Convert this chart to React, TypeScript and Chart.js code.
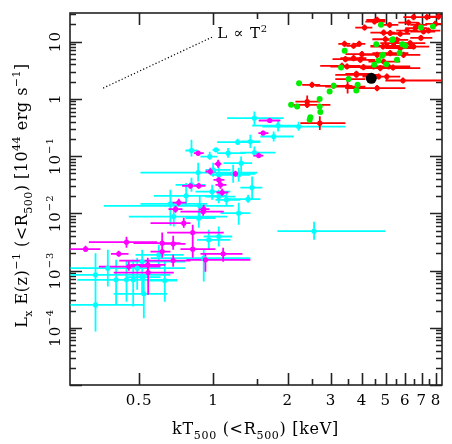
import React, { useEffect, useRef } from 'react';
import { Chart, registerables } from 'chart.js';

Chart.register(...registerables);

// ---------- axis ranges & ticks ----------
const X_MIN = 0.262;
const X_MAX = 8.45;
const Y_MIN = 1e-5;
const Y_MAX = 31.6;
const xMajorTicks = [0.5, 1, 2, 3, 4, 5, 6, 7, 8];
const xTickLabels = ['0.5', '1', '2', '3', '4', '5', '6', '7', '8'];
const xMinorTicks = [1.5, 2.5, 3.5, 4.5, 5.5, 6.5, 7.5];
const yDecadeExps = [-5, -4, -3, -2, -1, 0, 1];
const yLabelExps = [-4, -3, -2, -1, 0, 1];

// ---------- data: [T, Tlo, Thi, L, Llo, Lhi] ----------
const cyanPts = [
  [1.466, 1.136, 1.927, 0.46, 0.351, 0.6],
  [1.829, 1.435, 2.252, 0.341, 0.268, 0.43],
  [2.216, 1.579, 3.426, 0.328, 0.276, 0.396],
  [1.755, 1.55, 2.115, 0.2195, 0.1795, 0.268],
  [1.412, 1.286, 1.55, 0.1795, 0.139, 0.235],
  [1.254, 1.035, 1.55, 0.175, 0.157, 0.2],
  [0.8145, 0.77, 0.859, 0.125, 0.0981, 0.192],
  [1.025, 0.991, 1.057, 0.1285, 0.1186, 0.139],
  [1.147, 1.035, 1.348, 0.1125, 0.0931, 0.139],
  [0.966, 0.886, 1.035, 0.0981, 0.0859, 0.1186],
  [1.466, 1.286, 1.783, 0.1153, 0.0981, 0.1467],
  [1.295, 1.098, 1.435, 0.0752, 0.0503, 0.0981],
  [0.867, 0.506, 1.503, 0.0515, 0.0359, 0.0762],
  [1.051, 0.972, 1.412, 0.047, 0.0294, 0.0752],
  [1.266, 1.118, 1.386, 0.047, 0.0355, 0.0623],
  [0.997, 0.928, 1.172, 0.0574, 0.0434, 0.0762],
  [1.435, 1.286, 1.579, 0.0282, 0.01718, 0.0439],
  [1.382, 1.139, 1.55, 0.01767, 0.01524, 0.021],
  [0.988, 0.846, 1.172, 0.024, 0.01718, 0.0314],
  [0.775, 0.573, 1.136, 0.0202, 0.01312, 0.0337],
  [1.129, 1.019, 1.286, 0.01718, 0.0135, 0.0228],
  [0.669, 0.506, 0.943, 0.01463, 0.00604, 0.0257],
  [0.88, 0.359, 1.209, 0.0135, 0.00823, 0.01963],
  [1.266, 1.068, 1.412, 0.01006, 0.00629, 0.01524],
  [0.6905, 0.4537, 1.136, 0.00878, 0.00587, 0.01231],
  [0.872, 0.77, 1.019, 0.00823, 0.00557, 0.0115],
  [0.957, 0.859, 1.172, 0.00344, 0.0023, 0.00514],
  [1.051, 0.913, 1.191, 0.00393, 0.00262, 0.00587],
  [0.6003, 0.483, 0.758, 0.00188, 0.001257, 0.00281],
  [0.9134, 0.5557, 1.412, 0.001646, 0.000642, 0.0023],
  [2.559, 1.817, 4.977, 0.00488, 0.00344, 0.00709],
  [0.514, 0.44, 0.77, 0.001436, 0.001028, 0.0023],
  [0.373, 0.263, 0.77, 0.0011, 0.000525, 0.0023],
  [0.3325, 0.263, 0.669, 0.000841, 0.0000859, 0.002014],
  [0.4907, 0.386, 0.582, 0.0011, 0.00046, 0.001666],
  [0.403, 0.2804, 0.7124, 0.000687, 0.000251, 0.001537],
  [0.444, 0.391, 0.5557, 0.000687, 0.000284, 0.001418],
  [0.4727, 0.415, 0.639, 0.000687, 0.000235, 0.001537],
  [0.514, 0.44, 0.61, 0.000766, 0.000376, 0.001418],
  [0.635, 0.5386, 0.7124, 0.000668, 0.000284, 0.001418],
  [0.522, 0.394, 0.6494, 0.000392, 0.000147, 0.000841],
  [0.3325, 0.263, 0.522, 0.000251, 0.0000859, 0.000911],
  [1.202, 1.019, 1.48, 0.0489, 0.0341, 0.0703],
  [0.8145, 0.702, 0.928, 0.0314, 0.0237, 0.0417],
  [1.051, 0.928, 1.228, 0.01963, 0.015, 0.0257],
];

const magentaPts = [
  [1.691, 1.526, 1.868, 0.418, 0.396, 0.447],
  [1.59, 1.522, 1.671, 0.252, 0.235, 0.276],
  [0.867, 0.832, 0.9134, 0.1125, 0.101, 0.1235],
  [1.526, 1.452, 1.594, 0.1021, 0.0931, 0.1139],
  [1.045, 1.0094, 1.0775, 0.0731, 0.0623, 0.0859],
  [0.972, 0.928, 1.019, 0.0537, 0.047, 0.0623],
  [1.228, 1.172, 1.286, 0.0489, 0.0434, 0.0552],
  [1.051, 1.0, 1.108, 0.0384, 0.0327, 0.0451],
  [0.872, 0.7466, 0.928, 0.0302, 0.0268, 0.0341],
  [0.807, 0.77, 0.846, 0.0302, 0.0268, 0.0341],
  [1.068, 1.019, 1.129, 0.0314, 0.0268, 0.0369],
  [1.085, 1.0284, 1.15, 0.0231, 0.0202, 0.0268],
  [0.7235, 0.669, 0.777, 0.01541, 0.0135, 0.0179],
  [0.702, 0.657, 0.7489, 0.01182, 0.01019, 0.0135],
  [0.9134, 0.8695, 0.9634, 0.01182, 0.00979, 0.01406],
  [0.9085, 0.7349, 1.101, 0.01073, 0.00903, 0.01297],
  [0.758, 0.5557, 0.807, 0.00673, 0.00557, 0.00833],
  [0.824, 0.6494, 1.101, 0.00461, 0.00344, 0.00629],
  [0.444, 0.3125, 0.591, 0.00313, 0.00249, 0.00388],
  [0.6197, 0.474, 0.735, 0.00301, 0.00188, 0.00461],
  [0.6866, 0.61, 0.77, 0.00293, 0.0023, 0.00404],
  [0.303, 0.263, 0.348, 0.002365, 0.00212, 0.0027],
  [0.413, 0.384, 0.4524, 0.00196, 0.001735, 0.00221],
  [0.824, 0.735, 1.019, 0.002365, 0.001666, 0.00344],
  [1.095, 0.886, 1.311, 0.00196, 0.001418, 0.00249],
  [0.4537, 0.343, 0.61, 0.001174, 0.000988, 0.001418],
  [0.5417, 0.461, 0.639, 0.001257, 0.000949, 0.001666],
  [0.6866, 0.415, 0.807, 0.001494, 0.00116, 0.00188],
  [0.928, 0.777, 1.412, 0.001537, 0.000949, 0.00196],
  [0.5437, 0.394, 0.6905, 0.000922, 0.000376, 0.001537],
  [0.6197, 0.5557, 0.669, 0.002147, 0.001666, 0.0027],
];

const redPts = [
  [4.61, 4.17, 4.98, 24.0, 21.2, 27.1],
  [4.1, 3.76, 4.41, 17.6, 15.6, 19.9],
  [5.18, 4.66, 5.62, 19.6, 17.3, 22.1],
  [6.18, 5.62, 6.77, 21.5, 19.0, 24.3],
  [6.48, 5.89, 7.23, 26.8, 23.7, 30.3],
  [7.34, 6.77, 8.01, 26.8, 23.7, 30.3],
  [8.18, 7.5, 8.47, 27.4, 24.2, 31.0],
  [4.9, 4.33, 5.46, 14.4, 12.7, 16.3],
  [5.21, 4.75, 5.72, 14.1, 12.5, 15.9],
  [5.72, 5.21, 6.28, 13.7, 12.1, 15.5],
  [6.09, 5.51, 6.77, 15.6, 13.8, 17.6],
  [6.58, 6.0, 7.36, 17.2, 15.2, 19.4],
  [7.11, 6.28, 7.93, 15.0, 13.3, 17.0],
  [7.45, 6.9, 8.32, 15.6, 13.8, 17.6],
  [3.4, 3.21, 3.59, 9.14, 8.09, 10.3],
  [3.7, 3.46, 3.94, 8.44, 7.47, 9.54],
  [3.9, 3.69, 4.13, 9.14, 8.09, 10.3],
  [4.98, 4.41, 5.72, 11.0, 9.77, 12.5],
  [5.38, 4.75, 6.28, 9.4, 8.32, 10.6],
  [6.28, 5.46, 7.23, 9.4, 8.32, 10.6],
  [5.05, 4.33, 5.72, 8.44, 7.47, 9.54],
  [5.72, 4.98, 6.58, 7.69, 6.81, 8.69],
  [6.48, 5.72, 7.5, 8.2, 7.26, 9.27],
  [4.0, 3.43, 4.66, 6.04, 5.35, 6.83],
  [4.61, 4.02, 5.31, 5.87, 5.19, 6.63],
  [5.21, 4.41, 6.17, 6.29, 5.57, 7.11],
  [5.9, 5.21, 6.9, 5.87, 5.19, 6.63],
  [3.43, 3.04, 3.87, 4.94, 4.37, 5.58],
  [3.7, 3.27, 4.17, 5.14, 4.55, 5.81],
  [3.94, 3.43, 4.53, 4.8, 4.25, 5.42],
  [4.9, 4.25, 5.72, 4.48, 3.96, 5.06],
  [3.48, 2.98, 4.02, 3.67, 3.25, 4.15],
  [4.06, 3.43, 4.75, 3.58, 3.17, 4.05],
  [4.46, 3.76, 5.21, 3.67, 3.25, 4.15],
  [5.13, 4.33, 6.28, 3.67, 3.25, 4.15],
  [3.32, 2.71, 3.94, 3.77, 3.34, 4.26],
  [4.75, 3.94, 6.9, 3.44, 3.04, 3.89],
  [3.8, 3.12, 4.66, 2.63, 2.33, 2.97],
  [4.68, 4.02, 5.46, 2.45, 2.17, 2.77],
  [5.05, 4.53, 5.72, 2.45, 2.17, 2.77],
  [5.87, 4.98, 8.47, 2.09, 1.85, 2.36],
  [3.53, 3.12, 4.13, 2.21, 1.96, 2.5],
  [2.51, 2.29, 2.71, 1.76, 1.56, 1.99],
  [3.07, 2.59, 3.66, 1.69, 1.5, 1.91],
  [3.5, 2.84, 4.13, 1.64, 1.24, 2.17],
  [4.61, 3.43, 6.0, 1.54, 1.36, 1.74],
  [2.4, 2.05, 2.98, 0.785, 0.695, 0.887],
  [2.4, 2.15, 2.71, 0.897, 0.705, 1.14],
  [2.7, 2.25, 3.43, 0.376, 0.284, 0.498],
  [6.94, 6.28, 7.72, 11.6, 10.3, 13.1],
  [7.93, 7.23, 8.47, 20.4, 18.1, 23.1],
  [5.55, 4.98, 6.17, 10.7, 9.47, 12.1],
  [6.77, 6.28, 7.36, 19.6, 17.3, 22.1],
  [4.5, 4.13, 4.98, 22.4, 19.8, 25.3],
  [4.87, 4.33, 5.62, 8.2, 7.26, 9.27],
  [5.35, 4.75, 6.17, 3.52, 3.12, 3.98],
  [3.8, 3.43, 4.33, 2.73, 2.42, 3.08],
];

// green: [T, L]
const greenPts = [
  [4.781, 19.6], [6.944, 17.6], [7.766, 18.3], [5.298, 10.7], [4.576, 9.03],
  [5.832, 9.03], [5.998, 8.44], [3.404, 6.9], [5.687, 6.29], [4.826, 5.64],
  [4.675, 4.67], [5.55, 4.8], [5.023, 4.04], [4.491, 3.93], [3.291, 3.52],
  [3.533, 2.21], [3.843, 1.76], [3.796, 1.4], [3.073, 1.69], [2.959, 1.34],
  [2.225, 1.88], [2.696, 0.989], [2.696, 0.733], [2.713, 0.586], [2.472, 0.479],
  [2.456, 0.43], [2.065, 0.785], [2.184, 0.733], [5.347, 11.04], [4.87, 5.87],
];

const blackPt = [[4.367, 2.28]];

// L ∝ T^2 guide line
const guideT = [0.357, 0.988];
const guideL = [1.54, 11.97];
const guideLabelPos = [1.035, 11.4];

const FONT = '"DejaVu Serif", "Liberation Serif", serif';

type Part = [string, number];

function errorBarData(pts: number[][]) {
  const out: any[] = [];
  for (const p of pts) {
    out.push({ x: p[1], y: p[3] }, { x: p[2], y: p[3] }, { x: p[0], y: null });
    out.push({ x: p[0], y: p[4] }, { x: p[0], y: p[5] }, { x: p[0], y: null });
  }
  return out;
}

function drawRich(ctx: CanvasRenderingContext2D, parts: Part[], x: number, y: number, size: number, spacing: number, align = 'center') {
  (ctx as any).letterSpacing = spacing + 'px';
  let w = 0;
  for (const [t, k] of parts) {
    ctx.font = `${k ? Math.round(size * 0.66) : size}px ${FONT}`;
    w += ctx.measureText(t).width;
  }
  let cx = align === 'center' ? x - w / 2 : x;
  ctx.textAlign = 'left';
  ctx.textBaseline = 'alphabetic';
  for (const [t, k] of parts) {
    const s = k ? Math.round(size * 0.66) : size;
    ctx.font = `${s}px ${FONT}`;
    const dy = k === 1 ? -size * 0.42 : k === -1 ? size * 0.3 : 0;
    ctx.fillText(t, cx, y + dy);
    cx += ctx.measureText(t).width;
  }
  (ctx as any).letterSpacing = '0px';
}

const framePlugin = {
  id: 'pgframe',
  beforeDatasetsDraw(chart: any) {
    const { ctx, chartArea: a, scales } = chart;
    const xs = scales.x, ys = scales.y;
    ctx.save();
    ctx.strokeStyle = '#222';
    ctx.lineWidth = 1.6;
    ctx.strokeRect(a.left, a.top, a.right - a.left, a.bottom - a.top);
    ctx.beginPath();
    const xt = (v: number, len: number) => {
      const px = Math.round(xs.getPixelForValue(v)) + 0.5;
      ctx.moveTo(px, a.bottom); ctx.lineTo(px, a.bottom - len);
      ctx.moveTo(px, a.top); ctx.lineTo(px, a.top + len);
    };
    xMajorTicks.forEach((v) => xt(v, 12));
    xMinorTicks.forEach((v) => xt(v, 6));
    const yt = (v: number, len: number) => {
      const py = Math.round(ys.getPixelForValue(v)) + 0.5;
      if (py < a.top - 1 || py > a.bottom + 1) return;
      ctx.moveTo(a.left, py); ctx.lineTo(a.left + len, py);
      ctx.moveTo(a.right, py); ctx.lineTo(a.right - len, py);
    };
    yDecadeExps.forEach((e) => {
      yt(Math.pow(10, e), 12);
      for (let m = 2; m <= 9; m++) yt(m * Math.pow(10, e), 6);
    });
    ctx.stroke();
    ctx.restore();
  },
  afterDraw(chart: any) {
    const { ctx, chartArea: a, scales } = chart;
    const xs = scales.x, ys = scales.y;
    ctx.save();
    ctx.fillStyle = '#000';
    // x tick labels
    xMajorTicks.forEach((v, i) => {
      drawRich(ctx, [[xTickLabels[i], 0]], xs.getPixelForValue(v), 405, 15, 1);
    });
    // y tick labels (rotated)
    yLabelExps.forEach((e) => {
      const py = ys.getPixelForValue(Math.pow(10, e));
      const parts: Part[] = e === 0 ? [['1', 0]] : e === 1 ? [['10', 0]] : [['10', 0], ['\u2212' + Math.abs(e), 1]];
      ctx.save();
      ctx.translate(59.5, py);
      ctx.rotate(-Math.PI / 2);
      drawRich(ctx, parts, 0, 0, 15, 1);
      ctx.restore();
    });
    // x title
    drawRich(ctx, [['kT', 0], ['500', -1], [' (<R', 0], ['500', -1], [') [keV]', 0]], 255.5, 434, 16, 0.7);
    // y title
    ctx.save();
    ctx.translate(27, 195.5);
    ctx.rotate(-Math.PI / 2);
    drawRich(ctx, [['L', 0], ['x', -1], [' E(z)', 0], ['\u22121', 1], [' (<R', 0], ['500', -1], [') [10', 0], ['44', 1], [' erg s', 0], ['\u22121', 1], [']', 0]], 0, 0, 16, 0.5);
    ctx.restore();
    // guide label
    const gx = xs.getPixelForValue(guideLabelPos[0]);
    const gy = ys.getPixelForValue(guideLabelPos[1]);
    drawRich(ctx, [['L \u221D T', 0], ['2', 1]], gx, gy, 15, 0.8, 'left');
    ctx.restore();
  },
};

export default function App() {
  const ref = useRef<HTMLCanvasElement>(null);
  useEffect(() => {
    if (!ref.current) return;
    const lineDs = (data: any[], color: string, width: number) => ({
      type: 'scatter' as const,
      data,
      showLine: true,
      spanGaps: false,
      borderColor: color,
      borderWidth: width,
      pointRadius: 0,
      fill: false,
    });
    const ptDs = (data: any[], color: string, r: number) => ({
      type: 'scatter' as const,
      data,
      pointRadius: r,
      pointBackgroundColor: color,
      pointBorderWidth: 0,
      borderWidth: 0,
      pointStyle: 'circle',
    });
    const chart = new Chart(ref.current, {
      type: 'scatter',
      data: {
        datasets: [
          ptDs(blackPt.map((p) => ({ x: p[0], y: p[1] })), '#000000', 5.5),
          ptDs(greenPts.map((p) => ({ x: p[0], y: p[1] })), '#00ee00', 3),
          ptDs(redPts.map((p) => ({ x: p[0], y: p[3] })), '#ff0000', 2.6),
          lineDs(errorBarData(redPts), '#ff0000', 1.8),
          ptDs(magentaPts.map((p) => ({ x: p[0], y: p[3] })), '#ff00ff', 2.6),
          ptDs(cyanPts.map((p) => ({ x: p[0], y: p[3] })), '#00ffff', 2.6),
          lineDs(errorBarData(magentaPts), '#ff00ff', 1.8),
          lineDs(errorBarData(cyanPts), '#00ffff', 1.8),
          {
            type: 'scatter' as const,
            data: guideT.map((t, i) => ({ x: t, y: guideL[i] })),
            showLine: true,
            borderColor: '#000',
            borderWidth: 1.2,
            borderDash: [1.2, 2.2],
            pointRadius: 0,
          },
        ] as any,
      },
      options: {
        animation: false,
        responsive: false,
        devicePixelRatio: 1,
        events: [],
        layout: { padding: { left: 70, top: 13, right: 10, bottom: 59 } },
        plugins: { legend: { display: false }, tooltip: { enabled: false } },
        scales: {
          x: { type: 'logarithmic', min: X_MIN, max: X_MAX, display: false },
          y: { type: 'logarithmic', min: Y_MIN, max: Y_MAX, display: false },
        },
      },
      plugins: [framePlugin],
    });
    return () => chart.destroy();
  }, []);
  return (
    <div style={{ position: 'absolute', left: 0, top: 0, width: 452, height: 444, background: '#fff' }}>
      <canvas ref={ref} width={452} height={444} style={{ display: 'block' }} />
    </div>
  );
}
